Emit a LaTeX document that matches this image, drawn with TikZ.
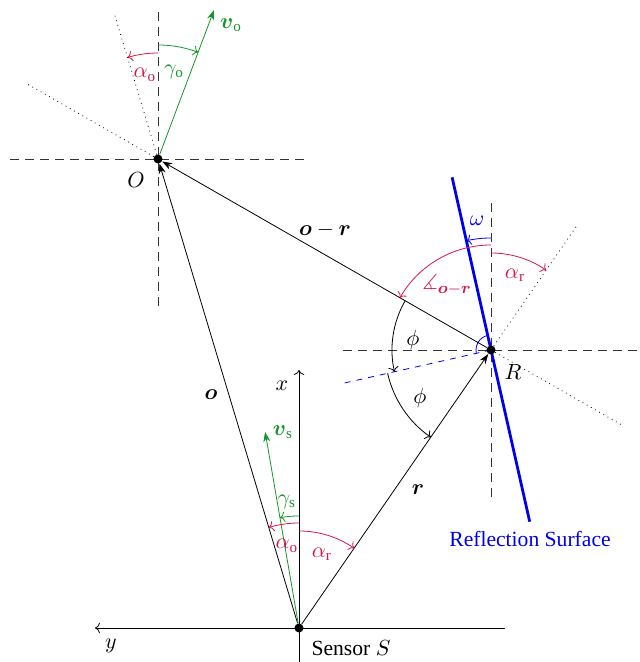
\documentclass[tikz,border=0pt]{standalone}
\usepackage{amsmath,amssymb}
\usepackage{fontspec}
\setmainfont{Liberation Serif}
\usetikzlibrary{arrows.meta,calc}
\definecolor{cred}{RGB}{215,20,70}
\definecolor{cgreen}{RGB}{20,150,40}
\definecolor{cblue}{RGB}{0,0,240}
\begin{document}
\begin{tikzpicture}[x=0.5pt,y=0.5pt,
  font=\fontsize{10.8pt}{13pt}\selectfont,
  vec/.style={-{Stealth[length=5pt,width=3.5pt]}},
  crossline/.style={dash pattern=on 4.5pt off 3pt, black!80},
  ext/.style={dotted},
  dot/.style={circle,fill,inner sep=0pt,minimum size=4.5pt},
  lbl/.style={inner sep=1pt},
]
\useasboundingbox (0,0) rectangle (640,662);
\coordinate (S) at (299,34);
\coordinate (O) at (158,503);
\coordinate (R) at (491,312);

% crosshairs
\coordinate (OL) at ($(O)+(-148,0)$);
\coordinate (OR) at ($(O)+(148,0)$);
\coordinate (OU) at ($(O)+(0,147)$);
\coordinate (OD) at ($(O)+(0,-147)$);
\draw[crossline] (OL) -- (OR);
\draw[crossline] (OU) -- (OD);
\coordinate (RL) at ($(R)+(-148,0)$);
\coordinate (RR) at ($(R)+(148,0)$);
\coordinate (RU) at ($(R)+(0,147)$);
\coordinate (RD) at ($(R)+(0,-147)$);
\draw[crossline] (RL) -- (RR);
\draw[crossline] (RU) -- (RD);

% extension lines
\coordinate (Oe1) at ($(O)+(106.73:152)$);
\coordinate (Oe2) at ($(O)+(150.16:151)$);
\coordinate (Re1) at ($(R)+(55.37:152)$);
\coordinate (Re2) at ($(R)+(-29.84:153)$);
\draw[ext] (O) -- (Oe1);
\draw[ext] (O) -- (Oe2);
\draw[ext] (R) -- (Re1);
\draw[ext] (R) -- (Re2);

% axes
\coordinate (xs) at (299,0);
\coordinate (xe) at (299,292);
\coordinate (ys) at (505,34);
\coordinate (ye) at (95,34);
\draw[->] (xs) -- (xe);
\draw[->] (ys) -- (ye);
\node[lbl] (xl) at (282,276) {$x$};
\node[lbl] (yl) at (111,16) {$y$};

% reflection surface and normal
\coordinate (Ft) at ($(R)+(102.7:177)$);
\coordinate (Fb) at ($(R)+(-77.3:176)$);
\draw[cblue,line width=1.4pt] (Ft) -- (Fb);
\coordinate (Ne) at ($(R)+(192.7:152)$);
\draw[cblue,dashed] (R) -- (Ne);
\draw[cblue] ($(R)+(102.7:15)$) arc[start angle=102.7,end angle=192.7,radius=15];
\node[cblue,lbl] (rsl) at (530,123) {Reflection Surface};

% dots
\node[dot] (Sd) at (S) {};
\node[dot] (Od) at (O) {};
\node[dot] (Rd) at (R) {};

% vectors
\draw[vec] (Sd) -- (Od);
\draw[vec] (Sd) -- (Rd);
\draw[vec] (Rd) -- (Od);
\node[lbl] (ol) at (211,267) {$\boldsymbol{o}$};
\node[lbl] (rl) at (418,172) {$\boldsymbol{r}$};
\node[lbl] (orl) at (325,432) {$\boldsymbol{o}-\boldsymbol{r}$};

% velocities
\coordinate (vo) at ($(O)+(69.4:159)$);
\coordinate (vs) at ($(S)+(99.8:199)$);
\draw[cgreen,vec] (Od) -- (vo);
\draw[cgreen,vec] (Sd) -- (vs);
\node[cgreen,lbl] (vol) at (231,637) {$\boldsymbol{v}_{\mathrm{o}}$};
\node[cgreen,lbl] (vsl) at (283,230) {$\boldsymbol{v}_{\mathrm{s}}$};

% angles at O
\draw[cred,->] ($(O)+(90:106)$) arc[start angle=90,end angle=106.73,radius=106];
\draw[cgreen,->] ($(O)+(90:114)$) arc[start angle=90,end angle=69.4,radius=114];
\node[cred,lbl] (aol) at (145,587) {$\alpha_{\mathrm{o}}$};
\node[cgreen,lbl] (gol) at (174,590) {$\gamma_{\mathrm{o}}$};
\node[lbl] (Ol) at (136,482) {$O$};

% angles at R
\draw[cred,->] ($(R)+(90:97)$) arc[start angle=90,end angle=55.37,radius=97];
\draw[cred,->] ($(R)+(90:105)$) arc[start angle=90,end angle=150.16,radius=105];
\draw[cblue,->] ($(R)+(90:112)$) arc[start angle=90,end angle=102.7,radius=112];
\draw[->] ($(R)+(150.16:99)$) arc[start angle=150.16,end angle=192.7,radius=99];
\draw[->] ($(R)+(192.7:106)$) arc[start angle=192.7,end angle=235.37,radius=106];
\node[cred,lbl] (arl) at (515,387) {$\alpha_{\mathrm{r}}$};
\node[cred,lbl] (angl) at (447,377) {$\measuredangle_{\boldsymbol{o}-\boldsymbol{r}}$};
\node[cblue,lbl] (oml) at (477,441) {$\omega$};
\node[lbl] (ph1) at (413,322) {$\phi$};
\node[lbl] (ph2) at (420,264) {$\phi$};
\node[lbl] (Rl) at (513,290) {$R$};

% angles at S
\draw[cred,->] ($(S)+(90:105)$) arc[start angle=90,end angle=106.73,radius=105];
\draw[cred,->] ($(S)+(90:97)$) arc[start angle=90,end angle=55.37,radius=97];
\draw[cgreen,->] ($(S)+(90:112)$) arc[start angle=90,end angle=99.8,radius=112];
\node[cred,lbl] (aosl) at (287,116) {$\alpha_{\mathrm{o}}$};
\node[cred,lbl] (arsl) at (322,108) {$\alpha_{\mathrm{r}}$};
\node[cgreen,lbl] (gsl) at (287,160) {$\gamma_{\mathrm{s}}$};
\node[lbl] (Sl) at (351,14) {Sensor $S$};
\end{tikzpicture}
\end{document}
